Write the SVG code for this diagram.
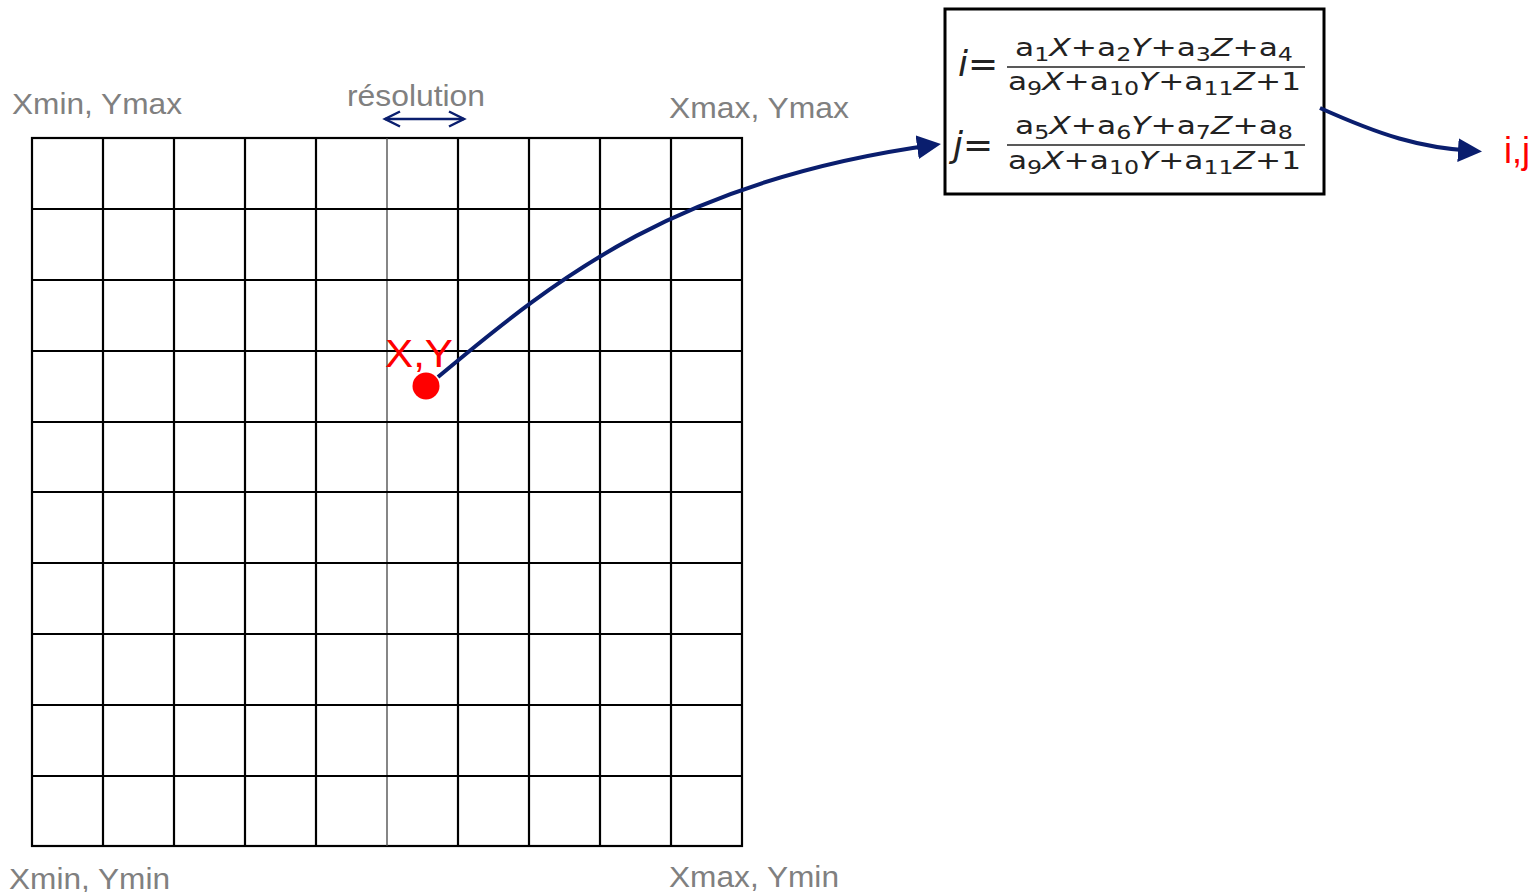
<svg xmlns="http://www.w3.org/2000/svg" width="1536" height="892" viewBox="0 0 1536 892">
<style>
.lbl{font-family:"Liberation Sans",Arial,sans-serif;fill:#808080;font-size:29px}
.red{font-family:"Liberation Sans",Arial,sans-serif;fill:#ff0000}
.grid{stroke:#000;stroke-width:2.2;fill:none}
.f{font-family:"DejaVu Sans",sans-serif;fill:#222;font-size:25px}
.big{font-size:36px}
.it{font-style:italic}
.sub{font-size:19px}
.conn{stroke:#0a1e6e;stroke-width:4;fill:none}
</style>
<defs>
<marker id="ah" markerWidth="6" markerHeight="6" refX="4" refY="3" orient="auto" markerUnits="strokeWidth">
<path d="M0,0 L6,3 L0,6 Z" fill="#0a1e6e"/>
</marker>
<marker id="open" markerWidth="20" markerHeight="20" refX="17" refY="9" orient="auto-start-reverse" markerUnits="userSpaceOnUse">
<path d="M2,1.5 L17,9 L2,16.5" fill="none" stroke="#0a1e6e" stroke-width="2.5"/>
</marker>
</defs>
<rect width="1536" height="892" fill="#fff"/>

<g id="grid">
<rect class="grid" x="32" y="138" width="710" height="708"/>
<path class="grid" d="M103,138V846M174,138V846M245,138V846M316,138V846M458,138V846M529,138V846M600,138V846M671,138V846"/>
<path d="M387,138V846" stroke="#444" stroke-width="1.3"/>
<path class="grid" d="M32,209H742M32,280H742M32,351H742M32,422H742M32,492H742M32,563H742M32,634H742M32,705H742M32,776H742"/>
</g>

<g id="labels">
<text class="lbl" x="12" y="114" textLength="170" lengthAdjust="spacingAndGlyphs">Xmin, Ymax</text>
<text class="lbl" x="347" y="106" textLength="138" lengthAdjust="spacingAndGlyphs">résolution</text>
<text class="lbl" x="669" y="118" textLength="180" lengthAdjust="spacingAndGlyphs">Xmax, Ymax</text>
<text class="lbl" x="9" y="889" font-size="36" textLength="161" lengthAdjust="spacingAndGlyphs">Xmin, Ymin</text>
<text class="lbl" x="669" y="887" font-size="36" textLength="170" lengthAdjust="spacingAndGlyphs">Xmax, Ymin</text>
</g>

<g id="point">
<text class="red" x="385" y="367" font-size="38" textLength="68" lengthAdjust="spacingAndGlyphs">X,Y</text>
<circle cx="426" cy="386" r="13.5" fill="#ff0000"/>
</g>

<g id="formula">
<rect x="945" y="9" width="379" height="185" fill="#fff" stroke="#000" stroke-width="3"/>
<text class="f big" x="958" y="76"><tspan class="it">i</tspan>=</text>
<text class="f" x="1015" y="56" textLength="278" lengthAdjust="spacingAndGlyphs">a<tspan class="sub" dy="5">1</tspan><tspan class="it" dy="-5">X</tspan>+a<tspan class="sub" dy="5">2</tspan><tspan class="it" dy="-5">Y</tspan>+a<tspan class="sub" dy="5">3</tspan><tspan class="it" dy="-5">Z</tspan>+a<tspan class="sub" dy="5">4</tspan></text>
<line x1="1007" y1="67" x2="1305" y2="67" stroke="#222" stroke-width="1.5"/>
<text class="f" x="1008" y="90" textLength="293" lengthAdjust="spacingAndGlyphs">a<tspan class="sub" dy="5">9</tspan><tspan class="it" dy="-5">X</tspan>+a<tspan class="sub" dy="5">10</tspan><tspan class="it" dy="-5">Y</tspan>+a<tspan class="sub" dy="5">11</tspan><tspan class="it" dy="-5">Z</tspan>+1</text>
<text class="f big" x="953" y="157"><tspan class="it">j</tspan>=</text>
<text class="f" x="1015" y="134" textLength="278" lengthAdjust="spacingAndGlyphs">a<tspan class="sub" dy="5">5</tspan><tspan class="it" dy="-5">X</tspan>+a<tspan class="sub" dy="5">6</tspan><tspan class="it" dy="-5">Y</tspan>+a<tspan class="sub" dy="5">7</tspan><tspan class="it" dy="-5">Z</tspan>+a<tspan class="sub" dy="5">8</tspan></text>
<line x1="1007" y1="145" x2="1305" y2="145" stroke="#222" stroke-width="1.5"/>
<text class="f" x="1008" y="169" textLength="293" lengthAdjust="spacingAndGlyphs">a<tspan class="sub" dy="5">9</tspan><tspan class="it" dy="-5">X</tspan>+a<tspan class="sub" dy="5">10</tspan><tspan class="it" dy="-5">Y</tspan>+a<tspan class="sub" dy="5">11</tspan><tspan class="it" dy="-5">Z</tspan>+1</text>
</g>

<g id="output">
<text class="red" x="1504" y="163" font-size="36">i,j</text>
</g>

<g id="connectors">
<path class="conn" d="M438,377 C560,275 680,180 933,145" marker-end="url(#ah)"/>
<path class="conn" d="M1320,108 C1380,135 1420,148 1474,151" marker-end="url(#ah)"/>
<line x1="385" y1="119" x2="464" y2="119" stroke="#0a1e6e" stroke-width="2.5" marker-start="url(#open)" marker-end="url(#open)"/>
</g>
</svg>
